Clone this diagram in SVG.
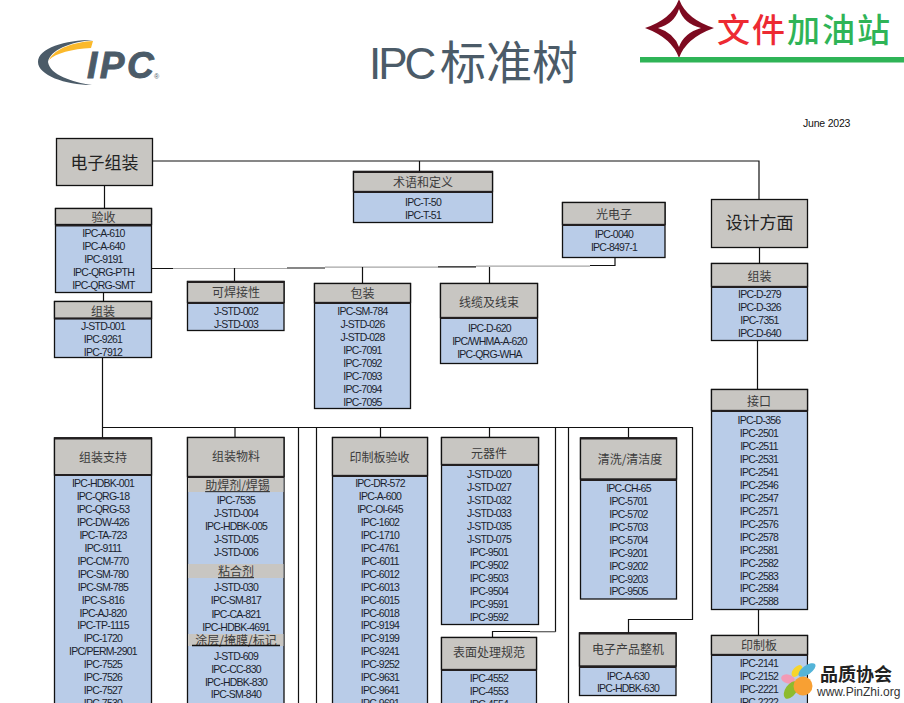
<svg xmlns="http://www.w3.org/2000/svg" width="904" height="703" viewBox="0 0 904 703">
<style>
text{font-family:"Liberation Sans","Noto Sans CJK SC",sans-serif}
.b{fill:#b9cce8;stroke:#111;stroke-width:1.3}
.h{fill:#c8c6c2;stroke:#111;stroke-width:1.3}
.s{fill:#c8c6c2}
.d{stroke:#231f20;stroke-width:2;fill:none}
.i{font-size:10.500px;letter-spacing:-.75px;text-anchor:middle;fill:#1b1f2e}
.t{font-family:"Noto Sans CJK SC","Liberation Sans",sans-serif;font-size:12px;text-anchor:middle;fill:#3c3c3c}
.T{font-family:"Noto Sans CJK SC","Liberation Sans",sans-serif;font-size:17px;text-anchor:middle;fill:#222}
.c path{fill:none;stroke:#111;stroke-width:1.2}
.c .g{stroke:#a6a6a6}
</style>
<rect width="904" height="703" fill="#fff"/>
<g id="logo">
<path d="M93 40C65 40 38 48 38 62C38 75 65 85 92 85C72 82 50 75 48 62C50 50 70 42 93 40Z" fill="#4b5b68"/>
<path d="M49 60C55 48 75 42 93 41L91 48C72 49 56 53 49 60Z" fill="#fbb92b"/>
<text x="87" y="78" font-size="37" font-weight="700" font-style="italic" letter-spacing="2.500" fill="#4b5b68" stroke="#4b5b68" stroke-width=".9">IPC</text>
<text x="154" y="79" font-size="7" fill="#4b5b68">®</text>
</g>
<text id="title" y="79" fill="#4b5b68"><tspan x="369" font-size="44" letter-spacing="-3">IPC </tspan><tspan x="440" y="79" font-size="46" font-family="Noto Sans CJK SC,sans-serif">标准树</tspan></text>
<g id="watermark-top">
<path d="M679 -1Q686 19 714 28Q686 38 679 58Q672 38 645 28Q672 19 679 -1Z" fill="#7d0a20"/>
<path d="M679 9Q684 24 701 28Q684 33 679 47Q674 33 658 28Q674 24 679 9Z" fill="#fff"/>
<text x="717" y="42" font-size="33" font-weight="500" letter-spacing="2" font-family="Noto Sans CJK SC,sans-serif" fill="#ed2a32">文件<tspan fill="#2fb457">加油站</tspan></text>
<rect x="640" y="57" width="264" height="5.500" fill="#2fb457"/>
</g>
<text id="date" x="803" y="127" font-size="10.500" letter-spacing="-.2" fill="#111">June 2023</text>
<g id="connectors" class="c">
<path d="M152 161H759V199M419.500 161V171M104.500 185V208M103.500 292V301M102.500 357V438"/>
<path d="M102 427.500H692.500V619.500H628.500V633M235 427.500V438M380.500 427.500V438M489.500 427.500V438M628.500 427.500V438M298.500 427.500V703M316.500 427.500V703M568.500 427.500V703"/>
<path d="M555.500 427.500V631.500H492.500V638"/>
<path class="g" d="M530 632H555.500"/>
<path d="M151.500 268.500H173M287 268H325M438 266.800H476M590 265.500H615V257"/>
<path class="g" d="M173 268.500H287M325 267.200H438M476 266.200H590"/>
<path d="M234.500 268V282M362.500 267V284M489.500 267V284"/>
<path d="M759.500 247V264M757.500 340V390M758.500 609V636"/>
</g>
<g id="n-electronics"><rect class="h" x="56.500" y="138.500" width="96" height="47"/><text class="T" x="104.500" y="169">电子组装</text></g>
<g id="n-design"><rect class="h" x="711.500" y="199.500" width="96" height="48"/><text class="T" x="759.500" y="229">设计方面</text></g>
<g id="n-acceptance"><rect class="b" x="55.500" y="208.500" width="96" height="84"/><rect class="h" x="55.500" y="208.500" width="96" height="16"/><path class="d" d="M55.500 225.500H151.500"/><text class="t" x="103.500" y="222">验收</text>
<text class="i" x="103.500" y="236.500">IPC-A-610</text><text class="i" x="103.500" y="249.500">IPC-A-640</text><text class="i" x="103.500" y="262.500">IPC-9191</text><text class="i" x="103.500" y="275.500">IPC-QRG-PTH</text><text class="i" x="103.500" y="288.500">IPC-QRG-SMT</text></g>
<g id="n-assembly"><rect class="b" x="54.500" y="301.500" width="97" height="56"/><rect class="h" x="54.500" y="301.500" width="97" height="17"/><path class="d" d="M54.500 318.500H151.500"/><text class="t" x="103" y="316">组装</text>
<text class="i" x="103" y="329.500">J-STD-001</text><text class="i" x="103" y="342.500">IPC-9261</text><text class="i" x="103" y="355.500">IPC-7912</text></g>
<g id="n-solderability"><rect class="b" x="187.500" y="281.500" width="96.500" height="49"/><rect class="h" x="187.500" y="281.500" width="96.500" height="21"/><path class="d" d="M187.500 303H284M187.500 282H284"/><text class="t" x="236" y="297">可焊接性</text>
<text class="i" x="236" y="314.500">J-STD-002</text><text class="i" x="236" y="327.500">J-STD-003</text></g>
<g id="n-packaging"><rect class="b" x="314.500" y="283.500" width="96" height="125"/><rect class="h" x="314.500" y="283.500" width="96" height="19"/><path class="d" d="M314.500 303H410.500"/><text class="t" x="362.500" y="298">包装</text>
<text class="i" x="362.500" y="314.500">IPC-SM-784</text><text class="i" x="362.500" y="327.500">J-STD-026</text><text class="i" x="362.500" y="340.500">J-STD-028</text><text class="i" x="362.500" y="353.500">IPC-7091</text><text class="i" x="362.500" y="366.500">IPC-7092</text><text class="i" x="362.500" y="379.500">IPC-7093</text><text class="i" x="362.500" y="392.500">IPC-7094</text><text class="i" x="362.500" y="405.500">IPC-7095</text></g>
<g id="n-cable"><rect class="b" x="440.500" y="283.500" width="97" height="80"/><rect class="h" x="440.500" y="283.500" width="97" height="34"/><path class="d" d="M440.500 318H537.500"/><text class="t" x="489" y="307">线缆及线束</text>
<text class="i" x="489.500" y="331.500">IPC-D-620</text><text class="i" x="489.500" y="344.500">IPC/WHMA-A-620</text><text class="i" x="489.500" y="357.500">IPC-QRG-WHA</text></g>
<g id="n-terms"><rect class="b" x="353.500" y="171.500" width="139" height="51"/><rect class="h" x="353.500" y="171.500" width="139" height="20"/><path class="d" d="M353.500 192H492.500M353.500 172H492.500"/><text class="t" x="423" y="187">术语和定义</text>
<text class="i" x="423" y="206">IPC-T-50</text><text class="i" x="423" y="219">IPC-T-51</text></g>
<g id="n-opto"><rect class="b" x="562.500" y="202.500" width="102.500" height="55"/><rect class="h" x="562.500" y="202.500" width="102.500" height="22"/><path class="d" d="M562.500 225H665"/><text class="t" x="614" y="219">光电子</text>
<text class="i" x="614" y="237.500">IPC-0040</text><text class="i" x="614" y="250.500">IPC-8497-1</text></g>
<g id="n-design-assembly"><rect class="b" x="711.500" y="263.500" width="96" height="77"/><rect class="h" x="711.500" y="263.500" width="96" height="23"/><path class="d" d="M711.500 287H807.500"/><text class="t" x="759.500" y="281">组装</text>
<text class="i" x="759.500" y="298">IPC-D-279</text><text class="i" x="759.500" y="311">IPC-D-326</text><text class="i" x="759.500" y="324">IPC-7351</text><text class="i" x="759.500" y="337">IPC-D-640</text></g>
<g id="n-interface"><rect class="b" x="711.500" y="389.500" width="96" height="220"/><rect class="h" x="711.500" y="389.500" width="96" height="21"/><path class="d" d="M711.500 411H807.500"/><text class="t" x="759" y="406">接口</text>
<text class="i" x="759" y="424">IPC-D-356</text><text class="i" x="759" y="437">IPC-2501</text><text class="i" x="759" y="450">IPC-2511</text><text class="i" x="759" y="463">IPC-2531</text><text class="i" x="759" y="476">IPC-2541</text><text class="i" x="759" y="489">IPC-2546</text><text class="i" x="759" y="502">IPC-2547</text><text class="i" x="759" y="515">IPC-2571</text><text class="i" x="759" y="528">IPC-2576</text><text class="i" x="759" y="541">IPC-2578</text><text class="i" x="759" y="554">IPC-2581</text><text class="i" x="759" y="567">IPC-2582</text><text class="i" x="759" y="580">IPC-2583</text><text class="i" x="759" y="592">IPC-2584</text><text class="i" x="759" y="605">IPC-2588</text></g>
<g id="n-pcb"><rect class="b" x="711.500" y="635.500" width="96" height="80"/><rect class="h" x="711.500" y="635.500" width="96" height="19"/><path class="d" d="M711.500 655H807.500"/><text class="t" x="759" y="650">印制板</text>
<text class="i" x="759" y="667">IPC-2141</text><text class="i" x="759" y="680">IPC-2152</text><text class="i" x="759" y="693">IPC-2221</text><text class="i" x="759" y="706">IPC-2222</text></g>
<g id="n-cleaning"><rect class="b" x="580.500" y="438" width="96" height="161"/><rect class="h" x="580.500" y="438" width="96" height="41"/><path class="d" d="M580.500 480H676.500M580.500 438.500H676.500"/><text class="t" x="630" y="464">清洗/清洁度</text>
<text class="i" x="628.500" y="492">IPC-CH-65</text><text class="i" x="628.500" y="505">IPC-5701</text><text class="i" x="628.500" y="518">IPC-5702</text><text class="i" x="628.500" y="531">IPC-5703</text><text class="i" x="628.500" y="544">IPC-5704</text><text class="i" x="628.500" y="557">IPC-9201</text><text class="i" x="628.500" y="570">IPC-9202</text><text class="i" x="628.500" y="583">IPC-9203</text><text class="i" x="628.500" y="595">IPC-9505</text></g>
<g id="n-product"><rect class="b" x="579.500" y="633" width="96.500" height="62.500"/><rect class="h" x="579.500" y="633" width="96.500" height="33"/><path class="d" d="M579.500 667H676M579.500 633.500H676"/><text class="t" x="628" y="654">电子产品整机</text>
<text class="i" x="628" y="680">IPC-A-630</text><text class="i" x="628" y="692">IPC-HDBK-630</text></g>
<g id="n-components"><rect class="b" x="441.500" y="437.500" width="97" height="187"/><rect class="h" x="441.500" y="437.500" width="97" height="27"/><path class="d" d="M441.500 465H538.500"/><text class="t" x="489" y="458">元器件</text>
<text class="i" x="489" y="478">J-STD-020</text><text class="i" x="489" y="491">J-STD-027</text><text class="i" x="489" y="504">J-STD-032</text><text class="i" x="489" y="517">J-STD-033</text><text class="i" x="489" y="530">J-STD-035</text><text class="i" x="489" y="543">J-STD-075</text><text class="i" x="489" y="556">IPC-9501</text><text class="i" x="489" y="569">IPC-9502</text><text class="i" x="489" y="582">IPC-9503</text><text class="i" x="489" y="595">IPC-9504</text><text class="i" x="489" y="608">IPC-9591</text><text class="i" x="489" y="621">IPC-9592</text></g>
<g id="n-finish"><rect class="b" x="441.500" y="637.500" width="95" height="80"/><rect class="h" x="441.500" y="637.500" width="95" height="32"/><path class="d" d="M441.500 670H536.500"/><text class="t" x="489" y="657">表面处理规范</text>
<text class="i" x="489" y="682">IPC-4552</text><text class="i" x="489" y="695">IPC-4553</text><text class="i" x="489" y="708">IPC-4554</text></g>
<g id="n-board-acceptance"><rect class="b" x="332.500" y="437.500" width="95" height="280"/><rect class="h" x="332.500" y="437.500" width="95" height="38"/><path class="d" d="M332.500 476H427.500"/><text class="t" x="379.500" y="462">印制板验收</text>
<text class="i" x="380" y="487">IPC-DR-572</text><text class="i" x="380" y="500">IPC-A-600</text><text class="i" x="380" y="513">IPC-OI-645</text><text class="i" x="380" y="526">IPC-1602</text><text class="i" x="380" y="539">IPC-1710</text><text class="i" x="380" y="552">IPC-4761</text><text class="i" x="380" y="565">IPC-6011</text><text class="i" x="380" y="578">IPC-6012</text><text class="i" x="380" y="591">IPC-6013</text><text class="i" x="380" y="604">IPC-6015</text><text class="i" x="380" y="617">IPC-6018</text><text class="i" x="380" y="629">IPC-9194</text><text class="i" x="380" y="642">IPC-9199</text><text class="i" x="380" y="655">IPC-9241</text><text class="i" x="380" y="668">IPC-9252</text><text class="i" x="380" y="681">IPC-9631</text><text class="i" x="380" y="694">IPC-9641</text><text class="i" x="380" y="707">IPC-9691</text></g>
<g id="n-support"><rect class="b" x="54.500" y="438" width="97" height="280"/><rect class="h" x="54.500" y="438" width="97" height="37"/><path class="d" d="M54.500 475H151.500M54.500 438.500H151.500"/><text class="t" x="103" y="462">组装支持</text>
<text class="i" x="103" y="487">IPC-HDBK-001</text><text class="i" x="103" y="500">IPC-QRG-18</text><text class="i" x="103" y="513">IPC-QRG-53</text><text class="i" x="103" y="526">IPC-DW-426</text><text class="i" x="103" y="539">IPC-TA-723</text><text class="i" x="103" y="552">IPC-9111</text><text class="i" x="103" y="565">IPC-CM-770</text><text class="i" x="103" y="578">IPC-SM-780</text><text class="i" x="103" y="591">IPC-SM-785</text><text class="i" x="103" y="604">IPC-S-816</text><text class="i" x="103" y="617">IPC-AJ-820</text><text class="i" x="103" y="629">IPC-TP-1115</text><text class="i" x="103" y="642">IPC-1720</text><text class="i" x="103" y="655">IPC/PERM-2901</text><text class="i" x="103" y="668">IPC-7525</text><text class="i" x="103" y="681">IPC-7526</text><text class="i" x="103" y="694">IPC-7527</text><text class="i" x="103" y="707">IPC-7530</text></g>
<g id="n-materials"><rect class="b" x="187.500" y="437.500" width="96.500" height="280"/><rect class="h" x="187.500" y="437.500" width="96.500" height="39"/><path class="d" d="M187.500 477H284"/><text class="t" x="236" y="461">组装物料</text>
<rect class="s" x="188" y="478" width="95.500" height="14"/><text class="t" x="237.500" y="490" font-size="13" text-decoration="underline">助焊剂/焊锡</text>
<text class="i" x="236" y="504">IPC-7535</text><text class="i" x="236" y="517">J-STD-004</text><text class="i" x="236" y="530">IPC-HDBK-005</text><text class="i" x="236" y="543">J-STD-005</text><text class="i" x="236" y="556">J-STD-006</text>
<rect class="s" x="188" y="564" width="95.500" height="14"/><text class="t" x="236" y="576" text-decoration="underline">粘合剂</text>
<text class="i" x="236" y="591">J-STD-030</text><text class="i" x="236" y="604">IPC-SM-817</text><text class="i" x="236" y="618">IPC-CA-821</text><text class="i" x="236" y="630.500">IPC-HDBK-4691</text>
<rect class="s" x="188" y="634" width="95.500" height="12"/><text class="t" x="236" y="644.500">涂层/掩膜/标记</text><path d="M192 645.500H280" stroke="#111" stroke-width="1.500"/>
<text class="i" x="236" y="660">J-STD-609</text><text class="i" x="236" y="673">IPC-CC-830</text><text class="i" x="236" y="686">IPC-HDBK-830</text><text class="i" x="236" y="698">IPC-SM-840</text></g>
<g id="watermark-bottom">
<rect x="808.200" y="660" width="96" height="43" fill="#fff"/>
<ellipse cx="788" cy="679" rx="7" ry="4.500" fill="#f39ab5" transform="rotate(15 788 679)"/>
<ellipse cx="791" cy="690" rx="10" ry="5.500" fill="#8dbb2e" transform="rotate(-55 791 690)"/>
<ellipse cx="797" cy="671" rx="7" ry="4" fill="#f7d52b" transform="rotate(-50 797 671)"/>
<ellipse cx="807" cy="670" rx="10" ry="4.500" fill="#54b4d8" transform="rotate(-35 807 670)"/>
<circle cx="803" cy="686" r="9.500" fill="#f8a033"/>
<text x="820" y="681" font-size="18" font-weight="700" font-family="Noto Sans CJK SC,sans-serif" fill="#222">品质协会</text>
<text x="817" y="696" font-size="12" fill="#333">www.PinZhi.org</text>
</g>
</svg>
